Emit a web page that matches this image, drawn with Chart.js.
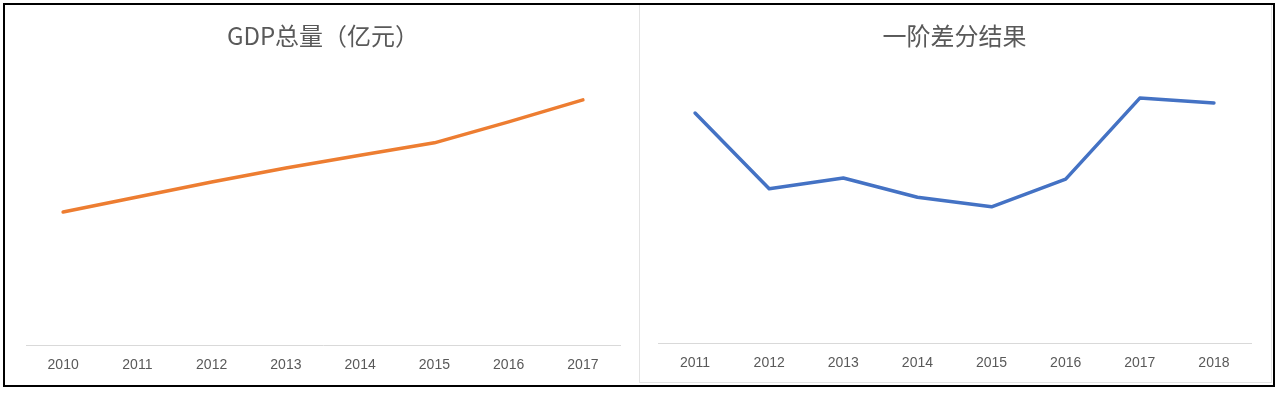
<!DOCTYPE html>
<html>
<head>
<meta charset="utf-8">
<script src="https://cdn.jsdelivr.net/npm/chart.js@4/dist/chart.umd.min.js"></script>
<style>
  body { margin: 0; background: #fff; }
  .frame { position: absolute; left: 3px; top: 3px; width: 1268px; height: 380px; border: 2px solid #000; }
  .box { position: absolute; top: 5px; height: 378px; }
  #boxLeft { left: 5px; width: 633px; }
  #boxRight { left: 639px; width: 631px; border-left: 1px solid #e3e3e3; border-right: 1px solid #e3e3e3; border-bottom: 1px solid #e3e3e3; height: 377px; }
  canvas { display: block; }
</style>
</head>
<body>
<div class="frame"></div>
<div class="box" id="boxLeft"><canvas id="graficoGDP" width="633" height="381"></canvas></div>
<div class="box" id="boxRight"><canvas id="graficoDiff" width="631" height="379"></canvas></div>
<script>
// Dados
const anosGDP = ["2010", "2011", "2012", "2013", "2014", "2015", "2016", "2017"];
const valoresGDP = [24800, 27600, 30400, 33000, 35400, 37700, 41600, 45700];

const anosDiff = ["2011", "2012", "2013", "2014", "2015", "2016", "2017", "2018"];
const valoresDiff = [4320, 2900, 3100, 2740, 2560, 3080, 4600, 4510];

const corTexto = "#595959";

function criarGrafico(id, titulo, labels, dados, cor, maxY, pad) {
  const ctx = document.getElementById(id).getContext("2d");
  return new Chart(ctx, {
    type: "line",
    data: {
      labels: labels,
      datasets: [{
        data: dados,
        borderColor: cor,
        borderWidth: 3.5,
        pointRadius: 0,
        borderCapStyle: "round",
        borderJoinStyle: "round",
        tension: 0
      }]
    },
    options: {
      responsive: false,
      animation: false,
      layout: { padding: pad },
      plugins: {
        legend: { display: false },
        tooltip: { enabled: false },
        title: {
          display: true,
          text: titulo,
          color: corTexto,
          font: { family: "'Noto Sans CJK SC', 'Noto Sans'", size: 24, weight: "normal", lineHeight: 1.2 },
          padding: { top: 16, bottom: 27 }
        }
      },
      scales: {
        x: {
          offset: true,
          grid: { display: false, drawTicks: false },
          border: { display: true, color: "#d9d9d9", width: 1 },
          ticks: {
            color: corTexto,
            padding: 12,
            maxRotation: 0,
            font: { family: "'Liberation Sans', 'DejaVu Sans'", size: 14 }
          }
        },
        y: {
          display: false,
          min: 0,
          max: maxY
        }
      }
    }
  });
}

criarGrafico("graficoGDP", "GDP总量（亿元）", anosGDP, valoresGDP, "#ED7D31", 50000,
  { left: 21, right: 18, top: 0, bottom: 0 });
criarGrafico("graficoDiff", "一阶差分结果", anosDiff, valoresDiff, "#4472C4", 5000,
  { left: 18, right: 20, top: 0, bottom: 0 });
</script>
</body>
</html>
